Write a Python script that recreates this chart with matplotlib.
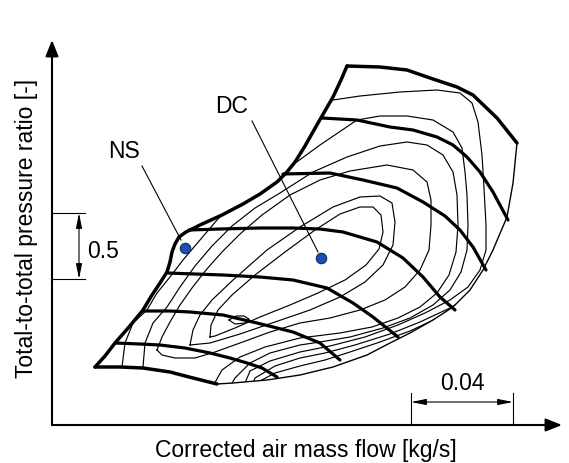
import numpy as np
import matplotlib.pyplot as plt
from matplotlib.patches import Polygon

plt.rcParams['font.family'] = ['Liberation Sans', 'DejaVu Sans']

# map traces (x right, y down),
# converted to mass flow / pressure ratio with the two scale bars
PX_X0, PX_Y0 = 52, 425
KG_PER_PX = 0.04 / 102
PR_PER_PX = 0.5 / 66


def to_map(points):
    p = np.asarray(points, dtype=float)
    return (p[:, 0] - PX_X0) * KG_PER_PX, 1.0 + (PX_Y0 - p[:, 1]) * PR_PER_PX


surge_line = [(95, 367), (105, 356), (115, 343), (129, 327), (143, 310), (152, 295),
              (160, 283), (167, 272), (170, 262), (172, 252), (175, 244), (179, 237),
              (186, 232), (200, 225), (222, 215), (243, 204), (260, 194), (277, 182),
              (287, 172), (295, 162), (305, 146), (318, 123), (333, 97), (341, 80), (347, 66)]
top_speed = [(347, 66), (380, 67), (407, 70), (430, 78), (457, 87), (473, 95),
             (497, 118), (517, 143)]
choke_line = [(517, 143), (513, 183), (507, 217), (493, 250), (483, 270), (470, 290),
              (453, 307), (433, 320), (410, 333), (390, 343), (367, 355), (333, 367),
              (300, 375), (267, 380), (233, 383), (217, 384)]
low_speed = [(95, 367), (120, 367), (143, 368), (170, 372), (193, 378), (217, 384)]

speed_lines = [
    [(115, 343), (140, 344), (160, 345), (185, 348), (210, 353), (230, 358), (247, 363),
     (262, 368), (277, 377)],
    [(143, 311), (170, 311), (190, 312), (223, 315), (257, 323), (293, 332), (320, 343),
     (340, 360)],
    [(167, 273), (195, 274), (223, 275), (260, 277), (293, 280), (327, 288), (353, 303),
     (373, 317), (398, 337)],
    [(189, 230), (220, 229), (260, 228), (293, 228), (320, 229), (343, 232), (377, 242),
     (403, 258), (423, 277), (440, 297), (455, 310)],
    [(283, 174), (330, 173), (363, 180), (397, 188), (423, 202), (445, 216), (460, 230),
     (473, 247), (486, 270)],
    [(322, 118), (357, 120), (390, 127), (413, 130), (437, 137), (453, 145), (467, 157),
     (480, 172), (493, 192), (508, 220)],
]

efficiency_lines = [
    [(229, 320), (236, 316), (244, 316), (249, 319), (245, 323), (235, 324), (229, 320)],
    [(210, 337), (211, 325), (218, 310), (232, 295), (255, 275), (285, 252), (315, 230),
     (340, 214), (360, 207), (373, 207), (381, 215), (383, 232), (379, 249), (366, 265),
     (345, 280), (318, 293), (290, 305), (260, 317), (235, 328), (215, 336), (210, 337)],
    [(190, 345), (193, 330), (200, 315), (212, 300), (233, 280), (267, 250), (300, 227),
     (333, 207), (360, 197), (380, 196), (392, 203), (395, 222), (393, 245), (383, 265),
     (365, 282), (340, 297), (310, 310), (275, 322), (240, 334), (210, 343), (190, 345)],
    [(157, 350), (162, 337), (170, 322), (180, 305), (192, 288), (206, 270), (222, 252),
     (240, 234), (262, 215), (290, 195), (320, 180), (350, 171), (387, 165), (413, 170),
     (427, 182), (431, 200), (431, 225), (429, 250), (420, 270), (405, 287), (385, 300),
     (360, 310), (330, 318), (300, 323), (270, 332), (240, 343), (215, 352), (195, 358),
     (175, 358), (162, 355), (157, 350)],
    [(140, 392), (143, 367), (145, 343), (153, 323), (167, 307), (180, 287), (195, 266),
     (212, 246), (232, 226), (255, 208), (280, 193), (313, 172), (347, 157), (380, 146),
     (407, 142), (427, 145), (443, 155), (453, 172), (457, 195), (458, 225), (456, 252),
     (449, 275), (437, 293), (420, 307), (398, 318), (372, 327), (340, 333), (300, 338),
     (265, 347), (240, 357), (222, 370), (208, 395)],
    [(118, 392), (122, 367), (125, 343), (133, 323), (147, 310), (157, 293), (170, 277),
     (183, 260), (200, 240), (217, 220), (233, 203), (258, 190), (283, 172), (320, 145),
     (357, 120), (380, 116), (407, 116), (433, 120), (453, 132), (462, 148), (465, 172),
     (467, 195), (468, 225), (467, 250), (461, 272), (450, 290), (433, 305), (410, 318),
     (383, 328), (350, 337), (320, 342), (300, 345), (270, 353), (250, 363), (235, 378),
     (225, 395)],
    [(320, 95), (333, 100), (360, 96), (400, 92), (437, 90), (460, 93), (472, 103),
     (478, 122), (482, 155), (484, 188), (486, 225), (486, 250), (480, 270), (468, 287),
     (450, 300), (425, 313), (398, 325), (365, 337), (330, 346), (300, 352), (270, 361),
     (250, 371), (240, 395)],
    [(505, 270), (475, 293), (450, 308), (420, 322), (390, 334), (355, 345), (325, 353),
     (300, 358), (275, 366), (255, 378), (248, 395)],
    [(490, 295), (440, 317), (410, 331), (380, 342), (350, 352), (325, 360), (300, 366),
     (275, 373), (260, 381), (255, 395)],
]

points = {'NS': (185, 248), 'DC': (321, 258)}
labels = {'NS': (124, 158), 'DC': (232, 113)}
leaders = {'NS': [(142, 166), (181, 240)], 'DC': [(252, 121), (318, 252)]}

flow_bar = [(411, 425), (513, 393)]   # 0.04 kg/s
pr_bar = [(52, 279), (85, 213)]       # 0.5

fig = plt.figure(figsize=(5.69, 4.63), dpi=100)
ax = fig.add_axes([52 / 569, 38 / 463, 510 / 569, 385 / 463])
ax.set_xlim(0, 510 * KG_PER_PX)
ax.set_ylim(1, 1 + 385 * PR_PER_PX)
ax.axis('off')

# axes with arrow heads
arrow = dict(arrowstyle='-|>,head_length=0.7,head_width=0.28', color='black', lw=1.5,
             shrinkA=0, shrinkB=0, mutation_scale=14)
ax.annotate('', xy=(1, 0), xytext=(0, 0), xycoords='axes fraction', arrowprops=arrow)
ax.annotate('', xy=(0, 1), xytext=(0, 0), xycoords='axes fraction', arrowprops=arrow)

# map boundary used to clip the efficiency islands
outline = surge_line + top_speed[1:] + choke_line[1:] + low_speed[::-1][1:]
bx, by = to_map(outline)
clip = Polygon(np.column_stack([bx, by]), closed=True, transform=ax.transData)

for line in efficiency_lines:
    x, y = to_map(line)
    ln, = ax.plot(x, y, color='black', lw=0.85, solid_joinstyle='round')
    ln.set_clip_path(clip)

for line in speed_lines:
    x, y = to_map(line)
    ax.plot(x, y, color='black', lw=2.3, solid_capstyle='round', solid_joinstyle='round')

x, y = to_map(choke_line)
ax.plot(x, y, color='black', lw=1.0)
for line in (surge_line, top_speed, low_speed):
    x, y = to_map(line)
    ax.plot(x, y, color='black', lw=2.5, solid_capstyle='round', solid_joinstyle='round')

# operating points with leader lines
for name in points:
    x, y = to_map(leaders[name])
    ax.plot(x, y, color='black', lw=0.8)
    x, y = to_map([labels[name]])
    ax.text(x[0], y[0], name, fontsize=16.5, ha='center', va='baseline')
    x, y = to_map([points[name]])
    ax.plot(x, y, 'o', ms=7.5, mfc='#1c4fb0', mec='#0b2a66', mew=0.8, zorder=5)

# scale bars
dim = dict(arrowstyle='<|-|>,head_length=0.9,head_width=0.18', color='black', lw=0.8,
           shrinkA=0, shrinkB=0, mutation_scale=10)
(fx0, fx1), (fy0, fy1) = to_map(flow_bar)
tick_top = to_map([(0, 393)])[1][0]
for fx in (fx0, fx1):
    ax.plot([fx, fx], [fy0, tick_top], color='black', lw=0.8)
arr_y = to_map([(0, 402)])[1][0]
ax.annotate('', xy=(fx1, arr_y), xytext=(fx0, arr_y), arrowprops=dim)
tx, ty = to_map([(462, 390)])
ax.text(tx[0], ty[0], '0.04', fontsize=16.5, ha='center', va='baseline')

(px0, px1), (py0, py1) = to_map(pr_bar)
for py in (py0, py1):
    ax.plot([px0, px1], [py, py], color='black', lw=0.8)
arr_x = to_map([(79, 0)])[0][0]
ax.annotate('', xy=(arr_x, py1), xytext=(arr_x, py0), arrowprops=dim)
tx, ty = to_map([(87, 258)])
ax.text(tx[0], ty[0], '0.5', fontsize=16.5, ha='left', va='baseline')

ax.text((306 - 52) / 510, (425 - 457) / 385, 'Corrected air mass flow [kg/s]',
        transform=ax.transAxes, fontsize=16.5, ha='center', va='baseline')
ax.text((33 - 52) / 510, (425 - 228) / 385, 'Total-to-total pressure ratio [-]',
        transform=ax.transAxes, fontsize=16.5, ha='center', va='baseline',
        rotation=90, rotation_mode='anchor')

fig.savefig('out.png', dpi=100)
